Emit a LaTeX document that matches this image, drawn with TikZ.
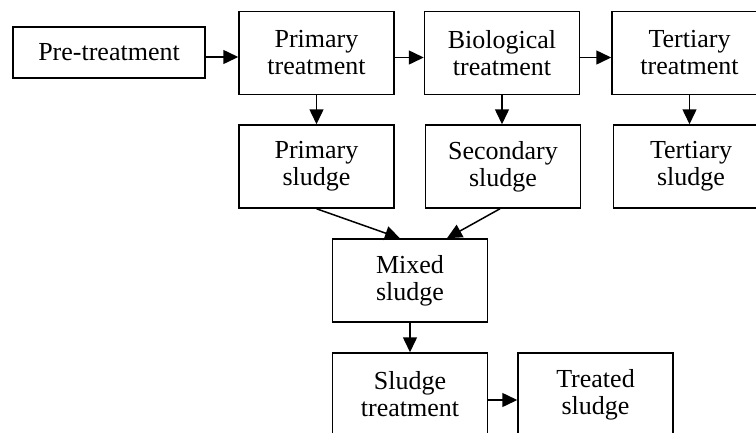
\documentclass[tikz,border=0pt]{standalone}
\usepackage{fontspec}
\setmainfont{Liberation Serif}
\usetikzlibrary{arrows.meta}

\tikzset{
  stage/.style={draw,line width=1.5pt,align=center,inner sep=0pt,
    minimum width=155pt,minimum height=83pt,
    font=\fontsize{26}{27}\selectfont},
  flow/.style={-{Triangle[length=15pt,width=14pt]},line width=1.5pt}
}

\begin{document}
\begin{tikzpicture}[x=1pt,y=-1pt]
  \useasboundingbox (0,0) rectangle (756,432);
  \node[stage,minimum width=192pt,minimum height=51pt] (pre) at (109,52.5) {Pre-treatment};
  \node[stage] (prim) at (316.5,53) {Primary\\treatment};
  \node[stage] (bio) at (502,53) {Biological\\treatment};
  \node[stage] (tert) at (689.5,53) {Tertiary\\treatment};
  \node[stage] (psl) at (316.5,166.5) {Primary\\sludge};
  \node[stage] (ssl) at (503,166.5) {Secondary\\sludge};
  \node[stage] (tsl) at (691,166.5) {Tertiary\\sludge};
  \node[stage] (mix) at (410,280.5) {Mixed\\sludge};
  \node[stage] (str) at (410,394.5) {Sludge\\treatment};
  \node[stage] (out) at (595.5,394.5) {Treated\\sludge};
  \draw[flow] ([yshift=-4.5pt]pre.east) -- ([yshift=-4.5pt]pre.east -| prim.west);
  \draw[flow] ([yshift=-4.5pt]prim.east) -- ([yshift=-4.5pt]prim.east -| bio.west);
  \draw[flow] ([yshift=-4.5pt]bio.east) -- ([yshift=-4.5pt]bio.east -| tert.west);
  \draw[flow] (prim.south) -- (psl.north);
  \draw[flow] (bio.south) -- (bio.south |- ssl.north);
  \draw[flow] (tert.south) -- (tert.south |- tsl.north);
  \draw[flow] (psl.south) -- ([xshift=-10pt]mix.north);
  \draw[flow] ([xshift=-3pt]ssl.south) -- ([xshift=37pt]mix.north);
  \draw[flow] (mix.south) -- (str.north);
  \draw[flow] ([yshift=-5.5pt]str.east) -- ([yshift=-5.5pt]str.east -| out.west);
\end{tikzpicture}
\end{document}
